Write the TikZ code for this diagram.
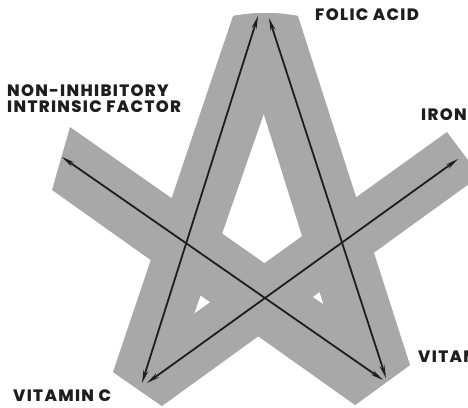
\documentclass[tikz,border=0pt]{standalone}
\usepackage{fontspec}
\setmainfont{Poppins}[BoldFont={Poppins ExtraBold}]
\usetikzlibrary{arrows.meta}
\definecolor{bandgray}{RGB}{168,168,168}
\definecolor{inkgray}{RGB}{30,30,30}

\begin{document}
\begin{tikzpicture}[x=1pt,y=-1pt,>={Stealth[length=13pt,width=5pt]},
  band/.style={fill=bandgray},
  arr/.style={<->,line width=1.8pt,draw=inkgray},
  lbl/.style={font=\bfseries\fontsize{16.5}{16}\selectfont\addfontfeatures{LetterSpace=8},text=inkgray,inner sep=0pt}]
\useasboundingbox (0,0) rectangle (468,407);
\clip (0,0) rectangle (468,407);
% ends of the star points
\coordinate (tl) at (233,16);  \coordinate (tr) at (298,16);
\coordinate (bla) at (113,372); \coordinate (blb) at (162,406);
\coordinate (bra) at (410,365); \coordinate (brb) at (355,405);
\coordinate (lfa) at (70,127);  \coordinate (lfb) at (52,190);
\coordinate (rta) at (447,132); \coordinate (rtb) at (480,176);
% the four bands
\fill[band] (tl) .. controls (255,12) and (276,12) .. (tr)--(blb)--(bla)--cycle;
\fill[band] (tl) .. controls (255,12) and (276,12) .. (tr)--(bra)--(brb)--cycle;
\fill[band] (lfa)--(bra)--(brb)--(lfb)--cycle;
\fill[band] (rta)--(rtb)--(blb)--(bla)--cycle;
% arrow ends
\coordinate (topa) at (258,16); \coordinate (topb) at (269,18);
\coordinate (bota) at (142,383); \coordinate (botb) at (147,383);
\coordinate (brta) at (386,378); \coordinate (brtb) at (383,380);
\coordinate (lft) at (62,157);  \coordinate (rgt) at (458,159);
\draw[arr] (topa)--(bota);
\draw[arr] (topb)--(brta);
\draw[arr] (lft)--(brtb);
\draw[arr] (rgt)--(botb);
% labels
\node[lbl,anchor=base west] (folic) at (315,20) {FOLIC ACID};
\node[lbl,anchor=north west,align=left] (intr) at (7,84) {NON-INHIBITORY\\INTRINSIC FACTOR};
\node[lbl,anchor=base west] (iron) at (421,120) {IRON};
\node[lbl,anchor=base west] (vitb) at (418,362) {VITAMIN};
\node[lbl,anchor=base west] (vitc) at (13,401) {VITAMIN C};
\end{tikzpicture}
\end{document}
